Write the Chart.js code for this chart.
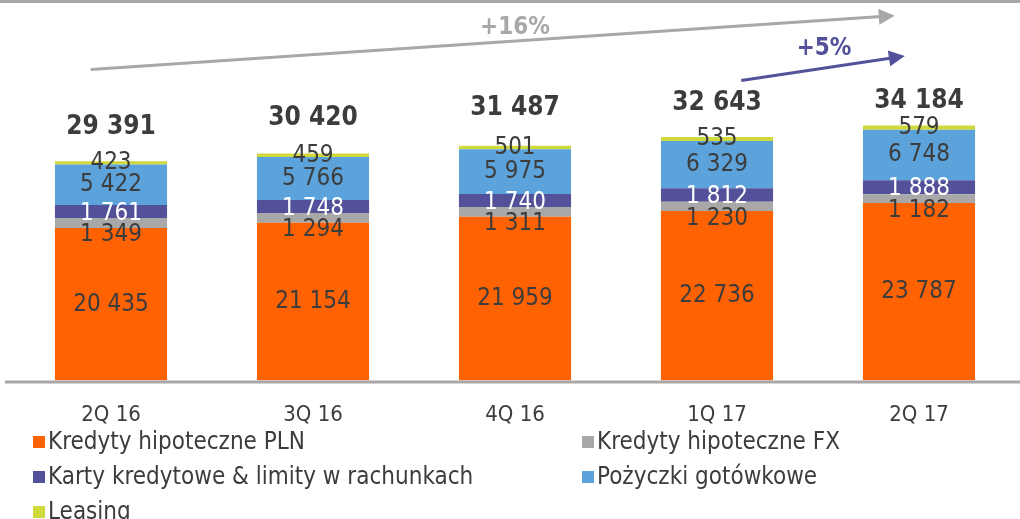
<!DOCTYPE html>
<html>
<head>
<meta charset="utf-8">
<script src="https://cdn.jsdelivr.net/npm/chart.js@4/dist/chart.umd.min.js"></script>
<style>
  html, body { margin: 0; padding: 0; background: #fff; }
  body { width: 1020px; height: 519px; position: relative; overflow: hidden;
         font-family: 'DejaVu Sans Condensed', 'DejaVu Sans', sans-serif; }
  #wrap { position: absolute; left: 0; top: 0; width: 1020px; height: 441px; }
  #legend { position: absolute; left: 33px; top: 429px; width: 987px;
            display: grid; grid-template-columns: 549px 400px; row-gap: 10px;
            font-size: 24px; color: #3c3c3c; line-height: 25px; }
  .item { display: flex; align-items: center; white-space: nowrap; }
  .sw { width: 12px; height: 12px; margin-right: 3px; flex: none; }
</style>
</head>
<body>
<div id="wrap"><canvas id="chart"></canvas></div>
<div id="legend"></div>
<script>
const quarters = ["2Q 16", "3Q 16", "4Q 16", "1Q 17", "2Q 17"];
const mortgagePLN = [20435, 21154, 21959, 22736, 23787];
const mortgageFX = [1349, 1294, 1311, 1230, 1182];
const cardsLimits = [1761, 1748, 1740, 1812, 1888];
const cashLoans = [5422, 5766, 5975, 6329, 6748];
const leasing = [423, 459, 501, 535, 579];
const totals = [29391, 30420, 31487, 32643, 34184];

const seriesNames = [
  "Kredyty hipoteczne PLN",
  "Kredyty hipoteczne FX",
  "Karty kredytowe & limity w rachunkach",
  "Pożyczki gotówkowe",
  "Leasing",
];
const colors = ["#ff6200", "#a8a8a8", "#525199", "#5ba3da", "#d0d93c"];
const labelColors = ["#3c3c3c", "#3c3c3c", "#ffffff", "#3c3c3c", "#3c3c3c"];
const labelShift = [0, 12, 2, 0, 0];
// how far the bold totals sit above each bar (px)
const totalLift = [34, 35, 37, 34, 24];

// growth arrows: [category index, value] pairs
const arrows = [
  { from: [-0.1, 41700], to: [3.88, 48900], color: "#a8a8a8", text: "+16%", at: [2.0, 47300] },
  { from: [3.12, 40200], to: [3.93, 43500], color: "#525199", text: "+5%", at: [3.53, 44400] },
];

const FONT = "'DejaVu Sans Condensed', 'DejaVu Sans', sans-serif";
const fmt = (v) => String(v).replace(/\B(?=(\d{3})+(?!\d))/g, " ");

const seriesData = [mortgagePLN, mortgageFX, cardsLimits, cashLoans, leasing];

// legend
const legendEl = document.getElementById("legend");
[0, 1, 2, 3, 4].forEach((i) => {
  const div = document.createElement("div");
  div.className = "item";
  div.innerHTML = `<span class="sw" style="background:${colors[i]}"></span>${seriesNames[i]}`;
  legendEl.appendChild(div);
});

const labelsPlugin = {
  id: "labels",
  afterDatasetsDraw(chart) {
    const ctx = chart.ctx;
    const xs = chart.scales.x;
    const ys = chart.scales.y;
    ctx.save();
    ctx.textAlign = "center";
    ctx.textBaseline = "middle";
    // segment values
    chart.data.datasets.forEach((ds, di) => {
      const meta = chart.getDatasetMeta(di);
      meta.data.forEach((bar, i) => {
        const mid = (bar.y + bar.base) / 2 + labelShift[di];
        ctx.font = "24px " + FONT;
        ctx.fillStyle = labelColors[di];
        ctx.fillText(fmt(ds.data[i]), bar.x, mid);
      });
    });
    // totals
    totals.forEach((t, i) => {
      const x = xs.getPixelForValue(i);
      const y = ys.getPixelForValue(t) - totalLift[i];
      ctx.font = "bold 26px " + FONT;
      ctx.fillStyle = "#3c3c3c";
      ctx.fillText(fmt(t), x, y);
    });
    // arrows
    arrows.forEach((a) => {
      const x0 = xs.getPixelForValue(a.from[0]);
      const y0 = ys.getPixelForValue(a.from[1]);
      const x1 = xs.getPixelForValue(a.to[0]);
      const y1 = ys.getPixelForValue(a.to[1]);
      const ang = Math.atan2(y1 - y0, x1 - x0);
      ctx.strokeStyle = a.color;
      ctx.fillStyle = a.color;
      ctx.lineWidth = 3;
      ctx.beginPath();
      ctx.moveTo(x0, y0);
      ctx.lineTo(x1 - 10 * Math.cos(ang), y1 - 10 * Math.sin(ang));
      ctx.stroke();
      ctx.beginPath();
      ctx.moveTo(x1, y1);
      ctx.lineTo(x1 - 16 * Math.cos(ang) + 8 * Math.sin(ang), y1 - 16 * Math.sin(ang) - 8 * Math.cos(ang));
      ctx.lineTo(x1 - 16 * Math.cos(ang) - 8 * Math.sin(ang), y1 - 16 * Math.sin(ang) + 8 * Math.cos(ang));
      ctx.closePath();
      ctx.fill();
      ctx.font = "bold 24px " + FONT;
      ctx.fillText(a.text, xs.getPixelForValue(a.at[0]), ys.getPixelForValue(a.at[1]));
    });
    // top rule and baseline
    ctx.strokeStyle = "#a8a8a8";
    ctx.lineWidth = 3;
    ctx.beginPath();
    ctx.moveTo(0, 1.5);
    ctx.lineTo(chart.width, 1.5);
    ctx.stroke();
    ctx.beginPath();
    ctx.moveTo(5, chart.chartArea.bottom + 1.5);
    ctx.lineTo(chart.width, chart.chartArea.bottom + 1.5);
    ctx.stroke();
    ctx.restore();
  },
};

new Chart(document.getElementById("chart").getContext("2d"), {
  type: "bar",
  data: {
    labels: quarters,
    datasets: seriesData.map((d, i) => ({
      label: seriesNames[i],
      data: d,
      backgroundColor: colors[i],
      borderWidth: 0,
      barPercentage: 0.555,
      categoryPercentage: 1,
    })),
  },
  options: {
    responsive: true,
    maintainAspectRatio: false,
    animation: false,
    layout: { padding: { left: 10, right: 0, top: 0, bottom: 0 } },
    plugins: {
      legend: { display: false },
      tooltip: { enabled: false },
    },
    scales: {
      x: {
        stacked: true,
        grid: { display: false },
        border: { display: false },
        ticks: {
          padding: 13,
          color: "#3c3c3c",
          font: { size: 22, family: FONT },
        },
      },
      y: {
        stacked: true,
        display: false,
        min: 0,
        max: 51000,
      },
    },
  },
  plugins: [labelsPlugin],
});
</script>
</body>
</html>
